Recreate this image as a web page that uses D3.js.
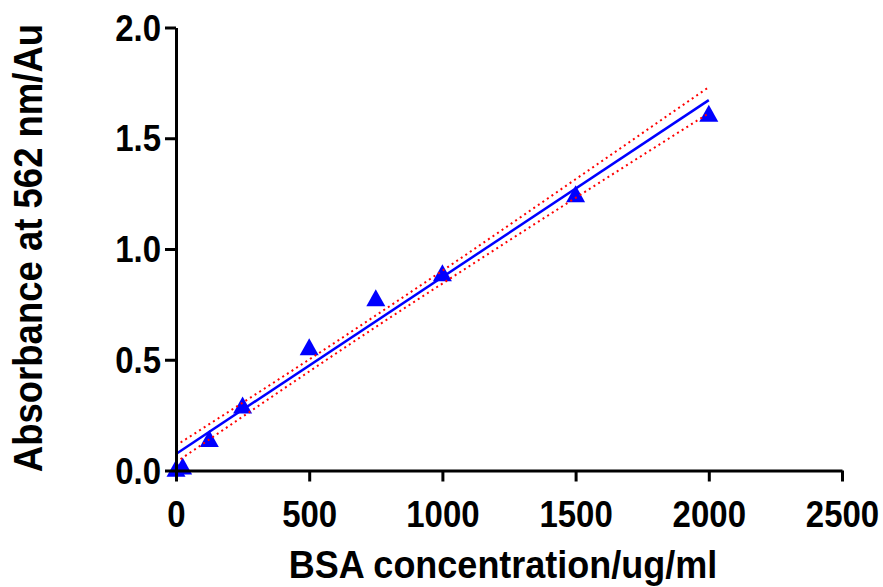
<!DOCTYPE html>
<html>
<head>
<meta charset="utf-8">
<script src="https://cdn.jsdelivr.net/npm/d3@7"></script>
<style>
  body { margin: 0; background: #fff; }
  text { font-family: "Liberation Sans", Arial, sans-serif; font-weight: bold; }
</style>
</head>
<body>
<div id="chart"></div>
<script>
var w = 883,
	h = 587;

// measured points
var conc = [0, 25, 125, 250, 500, 750, 1000, 1500, 2000],
	absorb = [0.01, 0.02, 0.145, 0.296, 0.559, 0.78, 0.893, 1.249, 1.613];

// fitted line and 95% band
var fitX = [0, 2000],
	fitY = [0.0745, 1.672];
var bandX = [0, 250, 500, 750, 1000, 1500, 2000],
	bandUp = [0.113, 0.306, 0.501, 0.700, 0.902, 1.315, 1.731],
	bandLo = [0.037, 0.243, 0.447, 0.648, 0.844, 1.231, 1.613];

var xTicks = [0, 500, 1000, 1500, 2000, 2500],
	yTicks = [0, 0.5, 1.0, 1.5, 2.0];

var x = d3.scaleLinear().domain([0, 2500]).range([176, 842]),
	y = d3.scaleLinear().domain([0, 2]).range([470.5, 27.5]);

var svg = d3.select('#chart').append('svg')
	.attr('width', w)
	.attr('height', h);

// points first, lines drawn on top
svg.append('g').selectAll('path')
	.data(conc)
	.enter().append('path')
	.attr('d', 'M0,-8.5L9.5,8.5L-9.5,8.5Z')
	.attr('transform', function(d, i) { return 'translate(' + x(d) + ',' + y(absorb[i]) + ')' })
	.style('fill', '#0000ff');

var line = d3.line()
	.x(function(d) { return x(d[0]) })
	.y(function(d) { return y(d[1]) });

svg.append('path')
	.attr('d', line(d3.zip(fitX, fitY)))
	.style('fill', 'none')
	.style('stroke', '#0000ff')
	.style('stroke-width', 2.5);

[bandUp, bandLo].forEach(function(b) {
	svg.append('path')
		.attr('d', line.curve(d3.curveMonotoneX)(d3.zip(bandX, b)))
		.style('fill', 'none')
		.style('stroke', '#ff0000')
		.style('stroke-width', 2)
		.style('stroke-dasharray', '2,3.5');
});

var xAxis = svg.append('g')
	.attr('transform', 'translate(0,' + y(0) + ')')
	.call(d3.axisBottom(x).tickValues(xTicks).tickFormat(d3.format('d')).tickSize(11).tickSizeOuter(0).tickPadding(0));

var yAxis = svg.append('g')
	.attr('transform', 'translate(' + x(0) + ',0)')
	.call(d3.axisLeft(y).tickValues(yTicks).tickFormat(d3.format('.1f')).tickSize(11).tickSizeOuter(0).tickPadding(4));

[xAxis, yAxis].forEach(function(a) {
	a.selectAll('path, line').style('stroke', '#000').style('stroke-width', 3);
	a.selectAll('text').style('fill', '#000').style('font-size', '33px')
		.style('font-family', '"Liberation Sans", Arial, sans-serif').style('font-weight', 'bold');
});
// glyphs in the reference are a bit taller than wide
xAxis.selectAll('.tick text').attr('y', 0).attr('dy', 0)
	.attr('transform', 'translate(0,56) scale(1,1.12)');
yAxis.selectAll('.tick text').attr('dy', 0)
	.attr('transform', 'translate(0,12.5) scale(1,1.12)');

svg.append('text')
	.attr('transform', 'translate(503,578) scale(1,1.1)')
	.attr('text-anchor', 'middle')
	.style('font-size', '36px')
	.text('BSA concentration/ug/ml');

svg.append('text')
	.attr('transform', 'translate(42,248) rotate(-90) scale(1,1.12)')
	.attr('text-anchor', 'middle')
	.style('font-size', '36.5px')
	.text('Absorbance at 562 nm/Au');
</script>
</body>
</html>
